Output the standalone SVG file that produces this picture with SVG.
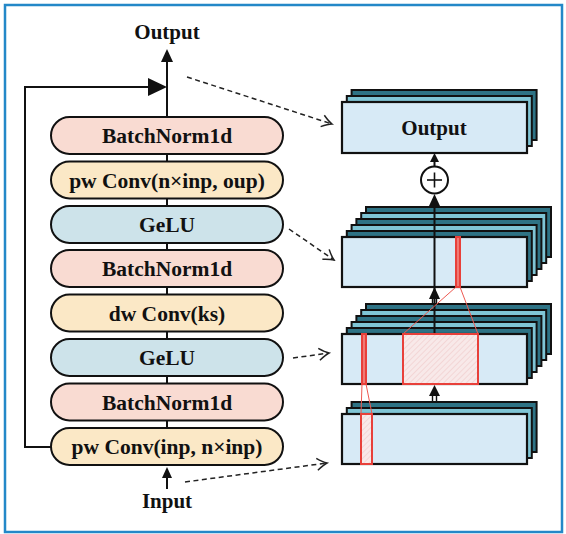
<svg xmlns="http://www.w3.org/2000/svg" width="566" height="534" viewBox="0 0 566 534">
<defs>
<style>
.t{font-family:"Liberation Serif","Times New Roman",serif;font-weight:bold;fill:#111;text-anchor:middle}
.pill{stroke:#111;stroke-width:2}
.bn{fill:#f9dbd2}
.cv{fill:#fbe8c6}
.ge{fill:#cde3ea}
.ln{stroke:#111;stroke-width:2;fill:none}
.dash{stroke:#222;stroke-width:1.5;stroke-dasharray:5 3.5;fill:none}
.front{fill:#d7eaf6;stroke:#111;stroke-width:2.2}
.dk{fill:#2e7385;stroke:#111;stroke-width:2}
.lt{fill:#7fc5d5;stroke:#111;stroke-width:2}
.red{stroke:#e8403a;stroke-width:2}
.redl{stroke:#ee5a52;stroke-width:1;fill:none}
</style>
<marker id="open" viewBox="-11 -7 13 14" refX="0" refY="0" markerWidth="13" markerHeight="14" markerUnits="userSpaceOnUse" orient="auto">
<path d="M-10,-6 Q-4,-1.5 0,0 Q-4,1.5 -10,6" fill="none" stroke="#222" stroke-width="1.5"/>
</marker>
<pattern id="hatch" width="4" height="4" patternUnits="userSpaceOnUse" patternTransform="rotate(45)">
<rect width="4" height="4" fill="#f8e9e9"/>
<line x1="0" y1="0" x2="0" y2="4" stroke="#efc4c4" stroke-width="1"/>
</pattern>
</defs>
<rect x="0" y="0" width="566" height="534" fill="#fff"/>
<rect x="5" y="5" width="557" height="527" fill="#fff" stroke="#2388c8" stroke-width="2.5"/>

<g id="connectors">
<line class="ln" x1="167" y1="60" x2="167" y2="466"/>
<polygon points="167,49 161,62 173,62" fill="#111"/>
<polyline class="ln" points="51,447 25,447 25,87 150,87"/>
<polygon points="167,87 148,78 148,96" fill="#111"/>
<line class="ln" x1="167" y1="476" x2="167" y2="489"/>
<polygon points="167,467 162,478 172,478" fill="#111"/>
<line class="dash" x1="187" y1="77" x2="332" y2="124" marker-end="url(#open)"/>
<line class="dash" x1="289" y1="229" x2="334" y2="260" marker-end="url(#open)"/>
<line class="dash" x1="293" y1="358" x2="329" y2="353" marker-end="url(#open)"/>
<line class="dash" x1="185" y1="482" x2="327" y2="463" marker-end="url(#open)"/>
</g>

<g id="input-label"><text class="t" x="167" y="508" font-size="21">Input</text></g>
<g id="output-label"><text class="t" x="167" y="39" font-size="21">Output</text></g>

<g id="n1"><rect class="pill bn" x="51" y="117" width="232" height="37" rx="18.5"/><text class="t" x="167" y="143" font-size="21.5">BatchNorm1d</text></g>
<g id="n2"><rect class="pill cv" x="51" y="161.5" width="232" height="37" rx="18.5"/><text class="t" x="167" y="187.5" font-size="21.5">pw Conv(n×inp, oup)</text></g>
<g id="n3"><rect class="pill ge" x="51" y="206" width="232" height="37" rx="18.5"/><text class="t" x="167" y="232" font-size="21.5">GeLU</text></g>
<g id="n4"><rect class="pill bn" x="51" y="250" width="232" height="37" rx="18.5"/><text class="t" x="167" y="276" font-size="21.5">BatchNorm1d</text></g>
<g id="n5"><rect class="pill cv" x="51" y="294.5" width="232" height="37" rx="18.5"/><text class="t" x="167" y="320.5" font-size="21.5">dw Conv(ks)</text></g>
<g id="n6"><rect class="pill ge" x="51" y="339" width="232" height="37" rx="18.5"/><text class="t" x="167" y="365" font-size="21.5">GeLU</text></g>
<g id="n7"><rect class="pill bn" x="51" y="383.5" width="232" height="37" rx="18.5"/><text class="t" x="167" y="409.5" font-size="21.5">BatchNorm1d</text></g>
<g id="n8"><rect class="pill cv" x="51" y="428" width="232" height="37" rx="18.5"/><text class="t" x="167" y="454" font-size="21.5">pw Conv(inp, n×inp)</text></g>

<g id="stack-input">
<rect class="dk" x="351.6" y="402" width="185" height="50"/>
<rect class="lt" x="346.8" y="408" width="185" height="50"/>
<rect class="front" x="342" y="414" width="185" height="50"/>
</g>
<g id="stack-gelu1">
<rect class="dk" x="366" y="304" width="185" height="50"/>
<rect class="lt" x="361.2" y="310" width="185" height="50"/>
<rect class="dk" x="356.4" y="316" width="185" height="50"/>
<rect class="lt" x="351.6" y="322" width="185" height="50"/>
<rect class="dk" x="346.8" y="328" width="185" height="50"/>
<rect class="front" x="342" y="334" width="185" height="50"/>
</g>
<g id="stack-gelu2">
<rect class="dk" x="366" y="207" width="185" height="50"/>
<rect class="lt" x="361.2" y="213" width="185" height="50"/>
<rect class="dk" x="356.4" y="219" width="185" height="50"/>
<rect class="lt" x="351.6" y="225" width="185" height="50"/>
<rect class="dk" x="346.8" y="231" width="185" height="50"/>
<rect class="front" x="342" y="237" width="185" height="50"/>
</g>
<g id="stack-output">
<rect class="dk" x="351.6" y="90" width="185" height="50"/>
<rect class="lt" x="346.8" y="96" width="185" height="50"/>
<rect class="front" x="342" y="102" width="185" height="51"/>
<text class="t" x="434" y="135" font-size="21">Output</text>
</g>

<g id="stack-connectors">
<line class="ln" x1="434.5" y1="334" x2="434.5" y2="200" stroke-width="1.8"/>
<polygon points="434.5,287 429,299 440,299" fill="#111"/>
<line x1="432.5" y1="298" x2="432.5" y2="304" stroke="#111" stroke-width="1.4"/>
<line x1="436.5" y1="298" x2="436.5" y2="304" stroke="#111" stroke-width="1.4"/>
<polygon points="434.5,385 429,396 440,396" fill="#111"/>
<line x1="432.5" y1="395" x2="432.5" y2="402" stroke="#111" stroke-width="1.4"/>
<line x1="436.5" y1="395" x2="436.5" y2="402" stroke="#111" stroke-width="1.4"/>
<polygon points="434.5,194 429,206 440,206" fill="#111"/>
<line class="ln" x1="434.5" y1="166" x2="434.5" y2="158" stroke-width="1.8"/>
<polygon points="434.5,153 430,162 439,162" fill="#111"/>
</g>
<g id="add">
<circle cx="434.5" cy="180" r="13.5" fill="#fff" stroke="#111" stroke-width="2"/>
<line x1="427" y1="180" x2="442" y2="180" stroke="#111" stroke-width="1.6"/>
<line x1="434.5" y1="172.5" x2="434.5" y2="187.5" stroke="#111" stroke-width="1.6"/>
</g>

<g id="receptive-field">
<line class="redl" x1="456" y1="287" x2="403" y2="334"/>
<line class="redl" x1="460" y1="287" x2="478" y2="334"/>
<line class="redl" x1="362" y1="384" x2="361" y2="414"/>
<line class="redl" x1="366" y1="384" x2="372" y2="414"/>
<rect class="red" x="456" y="237" width="4" height="50" fill="#f07a74"/>
<rect class="red" x="403" y="334" width="75" height="50" fill="url(#hatch)"/>
<rect class="red" x="362" y="334" width="4" height="50" fill="#f07a74"/>
<rect class="red" x="361" y="414" width="11" height="50" fill="url(#hatch)"/>
</g>
</svg>
